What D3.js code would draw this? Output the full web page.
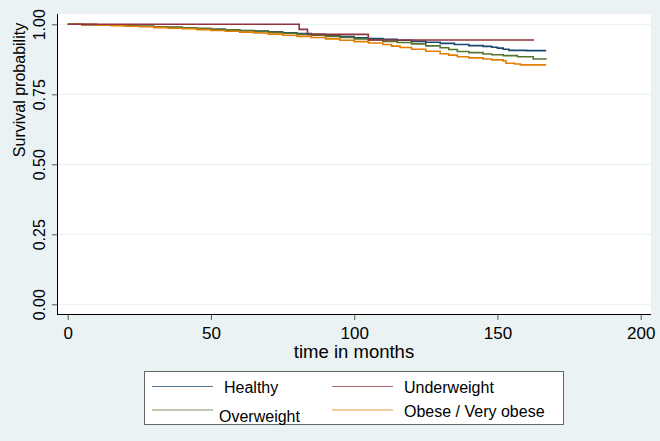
<!DOCTYPE html>
<html>
<head>
<meta charset="utf-8">
<script src="https://cdn.jsdelivr.net/npm/d3@7"></script>
<style>
  html, body { margin: 0; padding: 0; background: #eaf2f3; }
  svg { display: block; font-family: "Liberation Sans", Arial, Helvetica, sans-serif; }
</style>
</head>
<body>
<svg id="chart" width="660" height="441"></svg>
<script>
// Kaplan-Meier survival estimates by BMI group (time in months, survival probability)
const healthyTime = [0, 5, 10, 15, 20, 25, 30, 35, 40, 45, 50, 55, 60, 65, 70, 75, 80, 85, 90, 95, 100, 105, 110, 115, 120, 125, 130, 135, 140, 145, 148, 150, 152, 154, 160, 167];
const healthySurv = [1.000, 0.999, 0.998, 0.997, 0.995, 0.993, 0.991, 0.989, 0.987, 0.985, 0.982, 0.980, 0.978, 0.976, 0.973, 0.970, 0.967, 0.964, 0.960, 0.956, 0.952, 0.949, 0.946, 0.943, 0.939, 0.936, 0.932, 0.928, 0.924, 0.921, 0.918, 0.915, 0.911, 0.907, 0.906, 0.906];

const underTime   = [0, 80.8, 83.7, 104.9, 162.8];
const underSurv   = [1.000, 0.982, 0.964, 0.944, 0.944];

const overTime    = [0, 5, 10, 15, 20, 25, 30, 35, 40, 45, 50, 55, 60, 65, 70, 75, 80, 85, 90, 95, 100, 105, 110, 115, 120, 125, 130, 133, 136, 140, 145, 148, 152, 157, 162.5, 167];
const overSurv    = [1.000, 0.999, 0.998, 0.997, 0.995, 0.993, 0.991, 0.989, 0.987, 0.985, 0.982, 0.980, 0.977, 0.974, 0.971, 0.968, 0.964, 0.961, 0.957, 0.953, 0.948, 0.944, 0.939, 0.935, 0.930, 0.923, 0.916, 0.910, 0.903, 0.899, 0.894, 0.891, 0.888, 0.884, 0.876, 0.875];

const obeseTime   = [0, 5, 10, 15, 20, 25, 30, 35, 40, 45, 50, 55, 60, 65, 70, 75, 80, 85, 90, 95, 100, 105, 110, 113, 116, 120, 125, 130, 133, 136, 140, 145, 148, 152, 153, 156, 158, 167];
const obeseSurv   = [1.000, 0.999, 0.997, 0.995, 0.993, 0.991, 0.988, 0.986, 0.984, 0.981, 0.978, 0.975, 0.972, 0.969, 0.965, 0.961, 0.957, 0.953, 0.948, 0.943, 0.938, 0.933, 0.928, 0.922, 0.917, 0.911, 0.904, 0.895, 0.890, 0.884, 0.880, 0.876, 0.873, 0.869, 0.861, 0.858, 0.855, 0.855];

const groupNames  = ["Healthy", "Underweight", "Overweight", "Obese / Very obese"];
const groupColors = ["#1a476f", "#90353b", "#55752f", "#e37e00"];

const xTicks      = [0, 50, 100, 150, 200];
const yTicks      = [0, 0.25, 0.5, 0.75, 1];
const xTitle      = "time in months";
const yTitle      = "Survival probability";

const series = [
  { name: groupNames[0], color: groupColors[0], t: healthyTime, s: healthySurv },
  { name: groupNames[1], color: groupColors[1], t: underTime,   s: underSurv },
  { name: groupNames[2], color: groupColors[2], t: overTime,    s: overSurv },
  { name: groupNames[3], color: groupColors[3], t: obeseTime,   s: obeseSurv }
];

const svg = d3.select("#chart");

// plot region
const plot = { left: 57, right: 651, top: 14, bottom: 314 };

const x = d3.scaleLinear().domain([0, 200]).range([67.7, 640.7]);
const y = d3.scaleLinear().domain([0, 1]).range([304.3, 24.3]);

svg.append("rect")
  .attr("x", plot.left).attr("y", plot.top)
  .attr("width", plot.right - plot.left).attr("height", plot.bottom - plot.top)
  .attr("fill", "#ffffff");

// horizontal grid lines
svg.append("g").selectAll("line").data(yTicks).join("line")
  .attr("x1", plot.left).attr("x2", plot.right)
  .attr("y1", d => y(d)).attr("y2", d => y(d))
  .attr("stroke", "#eaf2f3").attr("stroke-width", 1.2);

// survival curves (step functions)
const line = d3.line()
  .x(d => x(d[0])).y(d => y(d[1]))
  .curve(d3.curveStepAfter);

const drawOrder = [0, 2, 3, 1];
svg.append("g").selectAll("path").data(drawOrder.map(i => series[i])).join("path")
  .attr("d", d => line(d.t.map((t, i) => [t, d.s[i]])))
  .attr("fill", "none")
  .attr("stroke", d => d.color)
  .attr("stroke-width", 1.6);

// y axis
const yAxis = d3.axisLeft(y).tickValues(yTicks).tickFormat(d3.format(".2f")).tickSize(5).tickPadding(0);
const gy = svg.append("g").attr("transform", `translate(${plot.left},0)`).call(yAxis);
gy.select(".domain").remove();
gy.selectAll(".tick line").attr("stroke", "#555");
gy.selectAll(".tick text")
  .attr("font-size", 16).attr("fill", "#000")
  .attr("text-anchor", "middle")
  .attr("x", null).attr("dy", null)
  .attr("transform", "translate(-12,0) rotate(-90)");

// x axis
const xAxis = d3.axisBottom(x).tickValues(xTicks).tickFormat(d3.format("d")).tickSize(6).tickPadding(0);
const gx = svg.append("g").attr("transform", `translate(0,${plot.bottom})`).call(xAxis);
gx.select(".domain").remove();
gx.selectAll(".tick line").attr("stroke", "#555");
gx.selectAll(".tick text")
  .attr("font-size", 17).attr("fill", "#000")
  .attr("y", 24.5).attr("dy", null);

// axis lines
svg.append("line")
  .attr("x1", plot.left + 0.5).attr("x2", plot.left + 0.5)
  .attr("y1", plot.top).attr("y2", plot.bottom + 0.5)
  .attr("stroke", "#000").attr("stroke-width", 1);
svg.append("line")
  .attr("x1", plot.left).attr("x2", plot.right)
  .attr("y1", plot.bottom + 0.5).attr("y2", plot.bottom + 0.5)
  .attr("stroke", "#000").attr("stroke-width", 1);

// axis titles
svg.append("text")
  .attr("x", (plot.left + plot.right) / 2).attr("y", 358)
  .attr("text-anchor", "middle").attr("font-size", 18.5)
  .text(xTitle);

svg.append("text")
  .attr("transform", "translate(25,90) rotate(-90)")
  .attr("text-anchor", "middle").attr("font-size", 16)
  .text(yTitle);

// legend
const legend = svg.append("g");
legend.append("rect")
  .attr("x", 144.5).attr("y", 371.5).attr("width", 419).attr("height", 53)
  .attr("fill", "#ffffff").attr("stroke", "#666").attr("stroke-width", 1);

const legendItems = [
  { i: 0, lx: 152, ly: 386.5, tx: 224, ty: 393 },
  { i: 1, lx: 332, ly: 386.5, tx: 404, ty: 393 },
  { i: 2, lx: 152, ly: 410,   tx: 219, ty: 421.5 },
  { i: 3, lx: 332, ly: 410,   tx: 404, ty: 416.5 }
];
const li = legend.selectAll("g.item").data(legendItems).join("g").attr("class", "item");
li.append("line")
  .attr("x1", d => d.lx).attr("x2", d => d.lx + 61)
  .attr("y1", d => d.ly).attr("y2", d => d.ly)
  .attr("stroke", d => series[d.i].color).attr("stroke-width", 1.2).attr("stroke-opacity", 0.75);
li.append("text")
  .attr("x", d => d.tx).attr("y", d => d.ty)
  .attr("font-size", 16).attr("fill", "#000")
  .text(d => series[d.i].name);
</script>
</body>
</html>
